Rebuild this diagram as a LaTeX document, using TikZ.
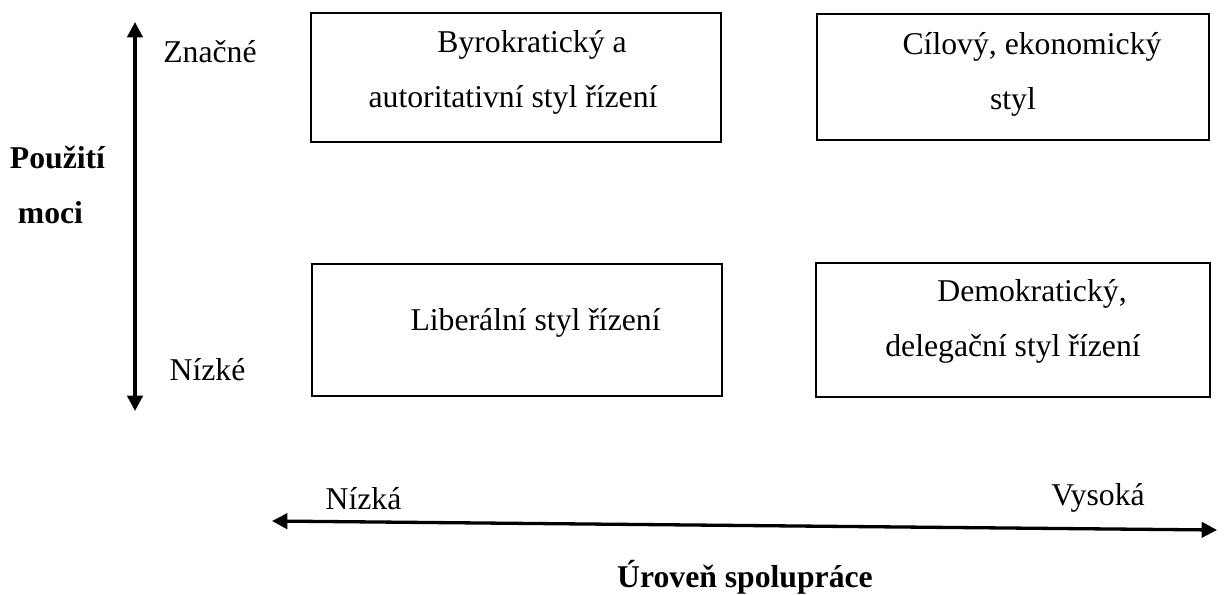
\documentclass[tikz,border=0pt]{standalone}
\usepackage{fontspec}
\setmainfont{Liberation Serif}
\usetikzlibrary{arrows.meta}
\tikzset{>={Triangle[length=5.8pt,width=5.8pt]}}

\begin{document}
\begin{tikzpicture}[x=0.3785pt, y=-0.3785pt,
                    line join=miter,
                    axis/.style={black, line width=1.25pt, <->},
                    quad/.style={draw, line width=1.05pt, inner sep=0pt, outer sep=0pt},
                    boxtext/.style={align=center, inner sep=0pt},
                    lbl/.style={inner sep=0pt}]
  \fontsize{12}{20.8}\selectfont
  \def\indent{\hspace*{14.4pt}}

  \useasboundingbox (0,0) rectangle (1227,594);

  % style boxes
  \node[quad, minimum width=155.2pt, minimum height=48.8pt] (byro) at (516,77.5) {};
  \node[quad, minimum width=148.4pt, minimum height=47.7pt] (cil) at (1013,77) {};
  \node[quad, minimum width=155.2pt, minimum height=50.0pt] (lib) at (517,330) {};
  \node[quad, minimum width=149.1pt, minimum height=50.7pt] (demo) at (1013,330) {};

  \node[boxtext] (byroText) at (513,72.5) {\indent Byrokratický a\\autoritativní styl řízení};
  \node[boxtext] (cilText) at (1013,74) {\indent Cílový, ekonomický\\styl};
  \node[boxtext] (libText) at (516.5,323) {\indent Liberální styl řízení};
  \node[boxtext] (demoText) at (1013,321.5) {\indent Demokratický,\\delegační styl řízení};

  % main axes
  \coordinate (mocTop) at (135,22);
  \coordinate (mocBot) at (135,411);
  \coordinate (coopL) at (272,521);
  \coordinate (coopR) at (1217,530);
  \draw[axis] (mocBot) -- (mocTop);
  \draw[axis] (coopL) -- (coopR);

  \node[lbl] (znacne) at (210,52) {Značné};
  \node[lbl] (nizke) at (207.5,370) {Nízké};
  \node[lbl, font=\bfseries, align=left] (moc) at (57.5,184.5) {Použití\\\hspace*{3pt}moci};
  \node[lbl] (nizka) at (363.5,499) {Nízká};
  \node[lbl] (vysoka) at (1098,498) {Vysoká};
  \node[lbl, font=\bfseries] (uroven) at (745,577) {Úroveň spolupráce};
\end{tikzpicture}
\end{document}
